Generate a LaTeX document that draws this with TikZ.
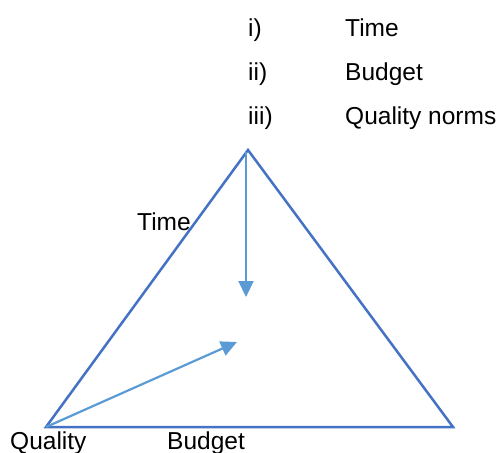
\documentclass[tikz,border=0pt]{standalone}
\usepackage{fontspec}
\setmainfont{Liberation Sans}
\usetikzlibrary{matrix,arrows.meta}
\definecolor{triblue}{HTML}{4472C4}
\definecolor{arrblue}{HTML}{5B9BD5}

\begin{document}
\begin{tikzpicture}[x=1pt,y=-1pt,font=\fontsize{24.5}{28}\selectfont,
  every node/.style={inner sep=0pt},
  side/.style={draw=triblue,line width=2.5pt},
  pull/.style={draw=arrblue,line width=2.2pt,-{Triangle[length=16pt,width=15pt]}}]
\useasboundingbox (0,0) rectangle (502,452);

\matrix (m)[matrix of nodes, anchor=north west, row sep=20pt, nodes={anchor=base west,text height=18pt,text depth=6pt}, column 1/.style={nodes={text width=97pt,align=left}}] at (248,18.5) {
i) & Time\\
ii) & Budget\\
iii) & Quality norms\\
};

\coordinate (apex) at (248,150);
\coordinate (ql) at (46,427);
\coordinate (br) at (453,427);
\coordinate (tStart) at (246,152);
\coordinate (tEnd) at (246,297);
\coordinate (qEnd) at (237,342);

\draw[side] (apex) -- (br) -- (ql) -- cycle;
\draw[pull] (tStart) -- (tEnd);
\draw[pull] (ql) -- (qEnd);

\node[anchor=base west] (tlab) at (137,230) {Time};
\node[anchor=base west] (qlab) at (10,449) {Quality};
\node[anchor=base west] (blab) at (167,449) {Budget};
\end{tikzpicture}
\end{document}
